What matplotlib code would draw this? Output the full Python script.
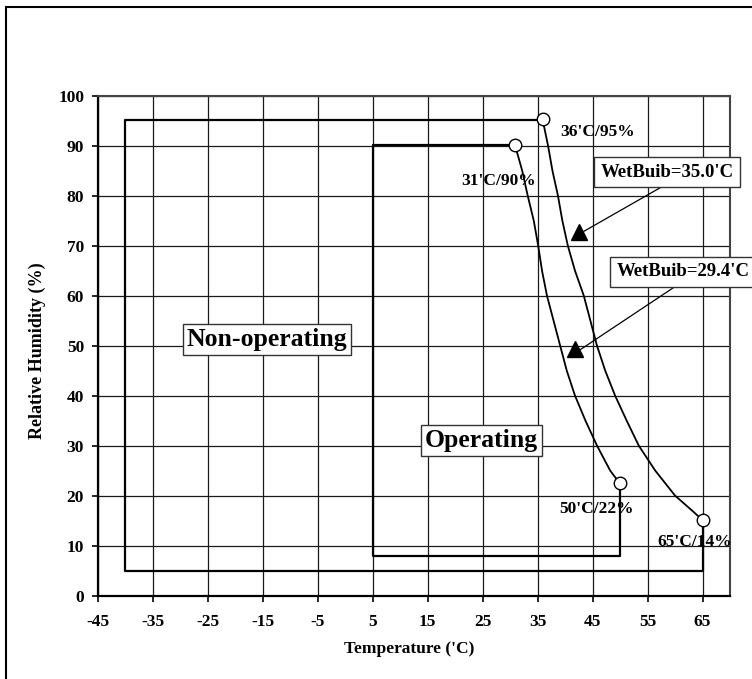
#!/usr/bin/env python3
"""Temperature / relative humidity envelope for operating and non-operating conditions."""

from __future__ import annotations

import matplotlib

matplotlib.use("Agg")
import matplotlib.pyplot as plt
from matplotlib.patches import Rectangle


X_TICKS = [-45, -35, -25, -15, -5, 5, 15, 25, 35, 45, 55, 65]
Y_TICKS = [0, 10, 20, 30, 40, 50, 60, 70, 80, 90, 100]

# non-operating envelope: box edges plus the wet-bulb 35.0'C curve
NONOP_BOX_T = [35.9, -40, -40, 65, 65]
NONOP_BOX_RH = [95.2, 95.2, 5, 5, 15.1]
WB35_T = [35.9, 36.9, 37.7, 38.7, 39.5, 40.5, 41.8, 43.4, 44.6, 45.8, 47.3,
          49.1, 51.2, 53.4, 56.4, 60.0, 63.1, 65.0]
WB35_RH = [95.3, 90, 85, 80, 75, 70, 65, 60, 55, 50, 45,
           40, 35, 30, 25, 20, 17, 15.1]

# operating envelope: box edges plus the wet-bulb 29.4'C curve
OP_BOX_T = [30.9, 5, 5, 50, 50]
OP_BOX_RH = [90.1, 90.1, 8, 8, 22.5]
WB294_T = [30.9, 32.2, 33.2, 34.3, 35.1, 35.8, 36.7, 37.9, 39.1, 40.3,
           41.8, 43.7, 45.8, 48.2, 49.9]
WB294_RH = [90.1, 85, 80, 75, 70, 65, 60, 55, 50, 45,
            40, 35, 30, 25, 22.5]

CORNER_T = [35.9, 30.9, 49.9, 65.0]
CORNER_RH = [95.3, 90.1, 22.5, 15.1]
CORNER_LABELS = ["36'C/95%", "31'C/90%", "50'C/22%", "65'C/14%"]
CORNER_LABEL_POS = [(45.9, 92.8), (27.8, 83.0), (45.7, 17.4), (63.5, 10.8)]

CALLOUTS = ["WetBuib=35.0'C", "WetBuib=29.4'C"]
CALLOUT_POS = [(58.6, 84.7), (61.4, 64.8)]
CALLOUT_TAIL = [(57.4, 81.7), (60.9, 62.5)]
CALLOUT_HEAD = [(43.4, 72.9), (42.6, 49.1)]
CALLOUT_MARK = [(42.5, 72.7), (41.8, 49.3)]

REGION_LABELS = ["Non-operating", "Operating"]
REGION_POS = [(-14.2, 51.2), (24.8, 31.1)]

FONT = "Liberation Serif"


def main() -> int:
    plt.rcParams["font.family"] = [FONT, "DejaVu Serif"]
    plt.rcParams["font.weight"] = "bold"

    fig = plt.figure(figsize=(7.52, 6.79), dpi=100)
    ax = fig.add_axes([98 / 752, 1 - 595.5 / 679, 632 / 752, 499.5 / 679])

    ax.set_xlim(-45, 70)
    ax.set_ylim(0, 100)
    ax.set_xticks(X_TICKS)
    ax.set_yticks(Y_TICKS)
    ax.set_xticklabels([str(t) for t in X_TICKS], fontsize=12.5, fontweight="bold")
    ax.set_yticklabels([str(t) for t in Y_TICKS], fontsize=12.5, fontweight="bold")
    ax.tick_params(direction="out", length=4, width=1.2)
    ax.tick_params(axis="x", pad=9.5)
    ax.tick_params(axis="y", pad=6)
    ax.grid(True, color="#1a1a1a", linewidth=0.9)
    ax.set_axisbelow(True)

    for side in ("left", "bottom"):
        ax.spines[side].set_linewidth(1.6)
        ax.spines[side].set_color("black")
    for side in ("top", "right"):
        ax.spines[side].set_linewidth(1.5)
        ax.spines[side].set_color("#444444")

    ax.plot(NONOP_BOX_T, NONOP_BOX_RH, color="black", linewidth=1.6, zorder=3)
    ax.plot(OP_BOX_T, OP_BOX_RH, color="black", linewidth=1.6, zorder=3)
    ax.plot(WB35_T, WB35_RH, color="black", linewidth=1.3, zorder=3)
    ax.plot(WB294_T, WB294_RH, color="black", linewidth=1.3, zorder=3)
    ax.plot(CORNER_T, CORNER_RH, linestyle="none", marker="o", markersize=9,
            markerfacecolor="white", markeredgecolor="black", markeredgewidth=1.0, zorder=5)

    for label, (tx, ty) in zip(CORNER_LABELS, CORNER_LABEL_POS):
        ax.text(tx, ty, label, ha="center", va="center", fontsize=12.5,
                fontweight="bold", zorder=6)

    box = dict(boxstyle="square,pad=0.35", facecolor="white", edgecolor="#333333", linewidth=1.0)
    for label, pos, tail, head, mark in zip(CALLOUTS, CALLOUT_POS, CALLOUT_TAIL,
                                            CALLOUT_HEAD, CALLOUT_MARK):
        ax.plot([tail[0], head[0]], [tail[1], head[1]], color="black", linewidth=0.9, zorder=4)
        ax.plot([mark[0]], [mark[1]], marker="^", markersize=12, color="black",
                linestyle="none", zorder=5)
        ax.text(pos[0], pos[1], label, ha="center", va="center", fontsize=13.5,
                fontweight="bold", bbox=box, zorder=6, clip_on=False)

    region_box = dict(boxstyle="square,pad=0.15", facecolor="white", edgecolor="#333333",
                      linewidth=1.0)
    for label, (tx, ty) in zip(REGION_LABELS, REGION_POS):
        ax.text(tx, ty, label, ha="center", va="center", fontsize=18.5,
                fontweight="bold", bbox=region_box, zorder=6)

    ax.text((409 - 98) / 632, (595.5 - 649) / 499.5, "Temperature ('C)", transform=ax.transAxes,
            ha="center", va="center", fontsize=12.5, fontweight="bold")
    ax.text((37 - 98) / 632, (595.5 - 351) / 499.5, "Relative Humidity (%)",
            transform=ax.transAxes, rotation=90, ha="center", va="center",
            fontsize=13, fontweight="bold")

    # outer frame; its right and bottom edges fall outside the picture
    fig.add_artist(Rectangle((6 / 752, -0.2), 2.0, 1.2 - 7 / 679, transform=fig.transFigure,
                             fill=False, edgecolor="black", linewidth=1.5, clip_on=False))

    fig.savefig("out.png", dpi=100)
    plt.close(fig)
    return 0


if __name__ == "__main__":
    raise SystemExit(main())
